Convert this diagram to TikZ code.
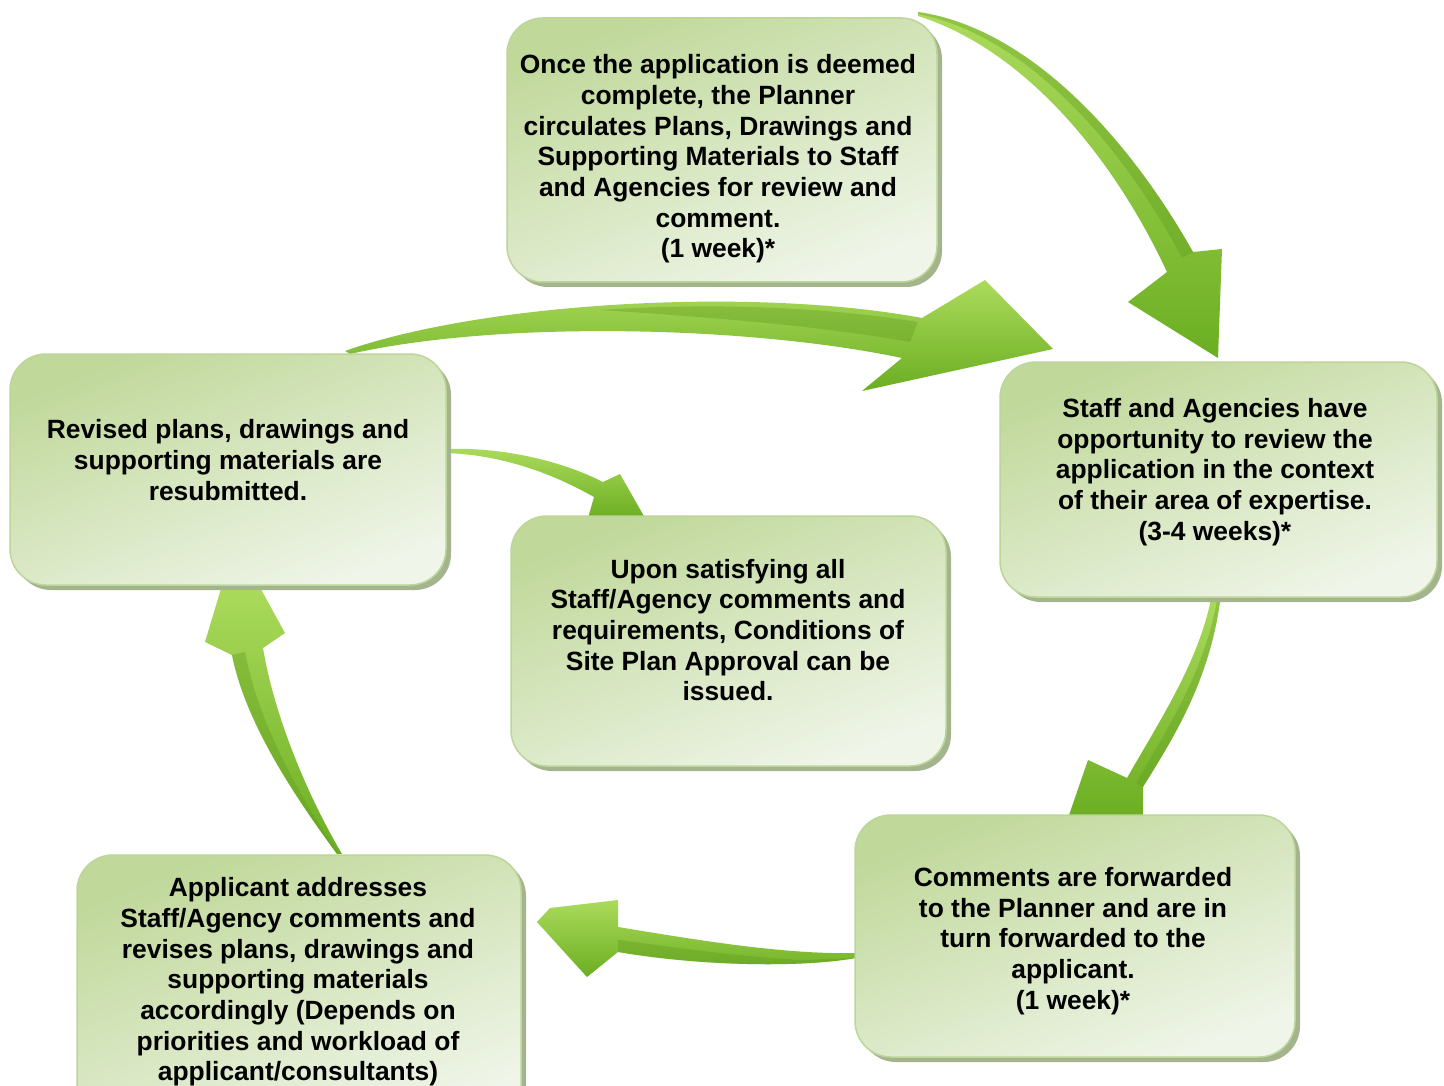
\documentclass[tikz,border=0pt]{standalone}
\usepackage{fontspec}
\setmainfont{Liberation Sans}
\usetikzlibrary{shadows}
\definecolor{boxdark}{HTML}{C0D89A}
\definecolor{boxlight}{HTML}{EFF5E8}
\definecolor{boxedge}{HTML}{BCD69A}
\definecolor{boxshadow}{HTML}{A4B58E}
\definecolor{arrlight}{HTML}{ACDB5C}
\definecolor{arrdark}{HTML}{6BAE22}
\definecolor{arrside}{HTML}{5E9A1C}
\begin{document}
\begin{tikzpicture}[x=1pt,y=-1pt,
  stepbox/.style={rectangle, rounded corners=36pt, draw=boxedge, line width=1.5pt,
    top color=boxdark, bottom color=boxlight, shading angle=22, inner sep=0pt,
    drop shadow={shadow xshift=5pt, shadow yshift=-5pt, fill=boxshadow, opacity=1}},
  steptext/.style={align=center, inner sep=0pt, text=black,
    font=\bfseries\fontsize{26.4}{30.7}\selectfont},
  arrowbody/.style={top color=arrlight, bottom color=arrdark, draw=none},
  arrowside/.style={fill=arrside, fill opacity=0.35, draw=none}
]
\useasboundingbox (0,0) rectangle (1444,1086);
\clip (0,0) rectangle (1444,1086);
\fill[white] (0,0) rectangle (1444,1086);

% ---- arrows (drawn first, boxes cover their ends) ----
% top box -> right box
\path[arrowbody] (918,12) .. controls (1030,28) and (1130,140) .. (1193,252)
  -- (1222,249) -- (1218,358) -- (1128,302) -- (1167,272)
  .. controls (1110,150) and (1020,48) .. (918,16) -- cycle;
\path[arrowside] (918,12) .. controls (1030,28) and (1130,140) .. (1193,252)
  -- (1182,258) .. controls (1125,150) and (1030,36) .. (918,14) -- cycle;
% left box -> right box (big)
\path[arrowbody] (345,351) .. controls (480,303) and (750,286) .. (922,318)
  -- (985,280) -- (1053,349) -- (862,391) -- (902,358)
  .. controls (750,326) and (500,320) .. (350,354) -- cycle;
\path[arrowside] (600,310) .. controls (720,302) and (830,308) .. (918,322)
  -- (910,342) .. controls (820,326) and (720,318) .. (600,310) -- cycle;
% left box -> middle box
\path[arrowbody] (447,449) .. controls (500,447) and (560,460) .. (603,482)
  -- (620,474) -- (645,518) -- (588,518) -- (594,497)
  .. controls (550,472) and (500,455) .. (447,453) -- cycle;
% right box -> bottom right box
\path[arrowbody] (1221,594) .. controls (1211,680) and (1172,740) .. (1143,787)
  -- (1143,818) -- (1068,818) -- (1088,760) -- (1127,778)
  .. controls (1160,720) and (1200,660) .. (1212,594) -- cycle;
\path[arrowside] (1221,594) .. controls (1211,680) and (1172,740) .. (1143,787)
  -- (1136,783) .. controls (1168,728) and (1205,670) .. (1217,600) -- cycle;
% bottom right box -> bottom left box
\path[arrowbody] (856,953) .. controls (780,955) and (680,937) .. (618,927)
  -- (618,900) -- (550,908) -- (537,922) -- (587,977) -- (618,952)
  .. controls (700,966) and (800,968) .. (856,958) -- cycle;
\path[arrowside] (618,952) .. controls (700,966) and (800,968) .. (856,958)
  -- (800,960) .. controls (720,955) and (660,945) .. (618,940) -- cycle;
% bottom left box -> left box
\path[arrowbody] (337,854) .. controls (290,790) and (245,720) .. (232,655)
  -- (205,642) -- (223,582) -- (257,582) -- (285,633) -- (263,648)
  .. controls (275,720) and (310,800) .. (342,854) -- cycle;
\path[arrowside] (337,854) .. controls (290,790) and (245,720) .. (232,655)
  -- (245,652) .. controls (258,720) and (295,790) .. (339,854) -- cycle;

% ---- boxes ----
\node[stepbox, minimum width=430pt, minimum height=264pt] (b1) at (722,150) {};
\node[stepbox, minimum width=437pt, minimum height=235pt] (b2) at (1218.5,479.5) {};
\node[stepbox, minimum width=436pt, minimum height=231pt] (b3) at (228,469.5) {};
\node[stepbox, minimum width=435pt, minimum height=250pt] (b4) at (728.5,641) {};
\node[stepbox, minimum width=440pt, minimum height=242pt] (b5) at (1075,936) {};
\node[stepbox, minimum width=444pt, minimum height=270pt] (b6) at (299,990) {};

% ---- texts ----
\node[steptext] (t1) at (718,159) {Once the application is deemed\\complete, the Planner\\circulates Plans, Drawings and\\Supporting Materials to Staff\\and Agencies for review and\\comment.\\(1 week)*};
\node[steptext] (t2) at (1215,472) {Staff and Agencies have\\opportunity to review the\\application in the context\\of their area of expertise.\\(3-4 weeks)*};
\node[steptext] (t3) at (228,460) {Revised plans, drawings and\\supporting materials are\\resubmitted.};
\node[steptext] (t4) at (728,630) {Upon satisfying all\\Staff/Agency comments and\\requirements, Conditions of\\Site Plan Approval can be\\issued.};
\node[steptext] (t5) at (1073,941) {Comments are forwarded\\to the Planner and are in\\turn forwarded to the\\applicant.\\(1 week)*};
\node[steptext] (t6) at (298,982) {Applicant addresses\\Staff/Agency comments and\\revises plans, drawings and\\supporting materials\\accordingly (Depends on\\priorities and workload of\\applicant/consultants)};
\end{tikzpicture}
\end{document}
